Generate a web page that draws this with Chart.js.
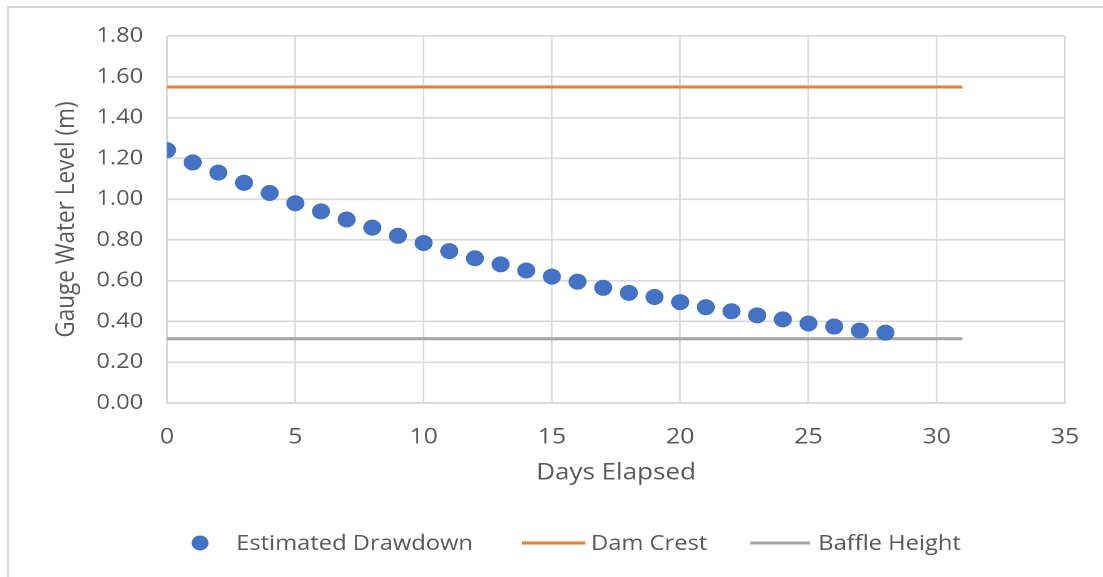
<!DOCTYPE html>
<html>
<head>
<meta charset="utf-8">
<script src="https://cdn.jsdelivr.net/npm/chart.js@4.4.1/dist/chart.umd.min.js"></script>
<style>
  html, body { margin: 0; padding: 0; background: #ffffff; overflow: hidden; }
  #page { width: 1103px; height: 577px; overflow: hidden; }
  /* The chart is laid out on a narrower canvas and widened horizontally */
  #wrap { width: 976px; height: 577px; transform: scaleX(1.1301); transform-origin: 0 0; }
  #chart { display: block; width: 976px; height: 577px; }
</style>
</head>
<body>
<div id="page"><div id="wrap"><canvas id="chart" width="976" height="577"></canvas></div></div>
<script>
// Days elapsed and estimated gauge water level (m)
const days = [0, 1, 2, 3, 4, 5, 6, 7, 8, 9, 10, 11, 12, 13, 14, 15, 16, 17, 18, 19, 20, 21, 22, 23, 24, 25, 26, 27, 28];
const drawdown = [1.24, 1.18, 1.13, 1.08, 1.03, 0.98, 0.94, 0.90, 0.86, 0.82, 0.785, 0.745, 0.71, 0.68, 0.65, 0.62, 0.595, 0.565, 0.54, 0.52, 0.495, 0.47, 0.45, 0.43, 0.41, 0.39, 0.375, 0.355, 0.345];

// Reference levels, drawn across the same day range
const levelDays = [0, 31];
const damCrest = [1.55, 1.55];
const baffleHeight = [0.315, 0.315];

const seriesLabels = ['Estimated Drawdown', 'Dam Crest', 'Baffle Height'];
const xTicks = [0, 5, 10, 15, 20, 25, 30, 35];
const yTicks = [0, 0.2, 0.4, 0.6, 0.8, 1.0, 1.2, 1.4, 1.6, 1.8];

const GRID = '#d9d9d9';
const TEXT = '#595959';

const toPoints = (xs, ys) => xs.map((x, i) => ({ x: x, y: ys[i] }));

// Outer frame of the chart area
const framePlugin = {
  id: 'frame',
  beforeDraw(chart) {
    const ctx = chart.ctx;
    ctx.save();
    ctx.fillStyle = '#ffffff';
    ctx.fillRect(0, 0, chart.width, chart.height);
    ctx.strokeStyle = GRID;
    ctx.lineWidth = 2;
    ctx.strokeRect(7, 7, chart.width + 20, chart.height + 20);
    ctx.restore();
  }
};

// Legend row under the axis title
const legendPlugin = {
  id: 'bottomLegend',
  afterDraw(chart) {
    const ctx = chart.ctx;
    const ds = chart.data.datasets;
    const y = 543;
    ctx.save();
    ctx.font = '21px "Open Sans"';
    ctx.textBaseline = 'middle';
    ctx.textAlign = 'left';
    const items = [
      { marker: 'point', mx: 177, tx: 209 },
      { marker: 'line', mx: 462, mw: 56, tx: 523 },
      { marker: 'line', mx: 664, mw: 53, tx: 724 }
    ];
    items.forEach((it, i) => {
      const d = ds[i];
      if (it.marker === 'point') {
        ctx.beginPath();
        ctx.fillStyle = d.backgroundColor;
        ctx.arc(it.mx, y, 7.5, 0, Math.PI * 2);
        ctx.fill();
      } else {
        ctx.beginPath();
        ctx.strokeStyle = d.borderColor;
        ctx.lineWidth = 3;
        ctx.moveTo(it.mx, y);
        ctx.lineTo(it.mx + it.mw, y);
        ctx.stroke();
      }
      ctx.fillStyle = TEXT;
      ctx.fillText(d.label, it.tx, y + 1);
    });
    ctx.restore();
  }
};

new Chart(document.getElementById('chart'), {
  type: 'scatter',
  data: {
    datasets: [
      {
        label: seriesLabels[0],
        data: toPoints(days, drawdown),
        backgroundColor: '#4472c4',
        borderColor: '#4472c4',
        pointRadius: 7.5,
        pointHoverRadius: 7.5,
        showLine: false,
        order: 1
      },
      {
        label: seriesLabels[1],
        data: toPoints(levelDays, damCrest),
        borderColor: '#ed7d31',
        backgroundColor: '#ed7d31',
        borderWidth: 3,
        pointRadius: 0,
        showLine: true,
        order: 2
      },
      {
        label: seriesLabels[2],
        data: toPoints(levelDays, baffleHeight),
        borderColor: '#a5a5a5',
        backgroundColor: '#a5a5a5',
        borderWidth: 3,
        pointRadius: 0,
        showLine: true,
        order: 3
      }
    ]
  },
  options: {
    responsive: false,
    animation: false,
    devicePixelRatio: 2,
    events: [],
    layout: { padding: { left: 0, top: 36, right: 32.6, bottom: 84 } },
    plugins: {
      legend: { display: false },
      tooltip: { enabled: false }
    },
    scales: {
      x: {
        type: 'linear',
        min: 0,
        max: 35,
        afterBuildTicks(scale) { scale.ticks = xTicks.map(v => ({ value: v })); },
        afterFit(scale) { scale.height = 90; },
        grid: { color: GRID, lineWidth: 1.4, drawTicks: false },
        border: { color: GRID, width: 1.4 },
        ticks: {
          color: TEXT,
          padding: 21,
          font: { family: 'Open Sans', size: 22 },
          maxRotation: 0
        },
        title: {
          display: true,
          text: 'Days Elapsed',
          color: TEXT,
          font: { family: 'Open Sans', size: 23 },
          padding: { top: 0, bottom: 6 }
        }
      },
      y: {
        type: 'linear',
        min: 0,
        max: 1.8,
        afterBuildTicks(scale) { scale.ticks = yTicks.map(v => ({ value: v })); },
        afterFit(scale) { scale.width = 147.8; },
        grid: { color: GRID, lineWidth: 1.6, drawTicks: false },
        border: { color: GRID, width: 1.4 },
        ticks: {
          color: TEXT,
          padding: 21,
          font: { family: 'Open Sans', size: 21 },
          callback: v => v.toFixed(2)
        },
        title: {
          display: true,
          text: 'Gauge Water Level (m)',
          color: TEXT,
          font: { family: 'Open Sans', size: 22.5 },
          padding: { top: 45.5, bottom: 0 }
        }
      }
    }
  },
  plugins: [framePlugin, legendPlugin]
});
</script>
</body>
</html>
